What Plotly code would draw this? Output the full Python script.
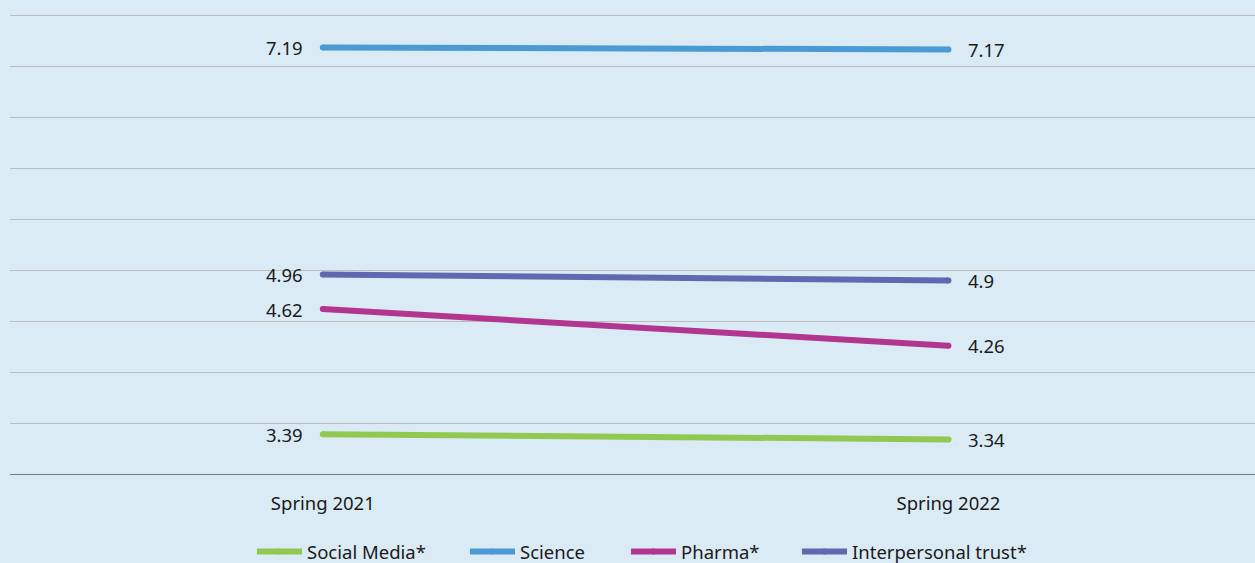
import plotly.graph_objects as go

periods = ["Spring 2021", "Spring 2022"]
series_names = ["Social Media*", "Science", "Pharma*", "Interpersonal trust*"]
social_media = [3.39, 3.34]
science = [7.19, 7.17]
pharma = [4.62, 4.26]
interpersonal = [4.96, 4.90]

colors = ["#92c84f", "#4a9bd5", "#b2368f", "#6068b0"]
values = [social_media, science, pharma, interpersonal]

FONT = "Noto Sans"
FS = 18.5
TEXT = "#1a1a1a"
BG = "#daebf5"

# one legend per series so the entries can be spaced out along the bottom
legend_ids = ["legend", "legend2", "legend3", "legend4"]
legend_x = [252, 465, 626, 797]

fig = go.Figure()
for name, vals, col, lid in zip(series_names, values, colors, legend_ids):
    fig.add_trace(go.Scatter(
        x=periods, y=vals, name=name, mode="lines+markers",
        line=dict(color=col, width=6),
        marker=dict(size=6, color=col),
        hoverinfo="skip", legend=lid,
    ))
    # value labels at each end of the line
    fig.add_annotation(x=periods[0], y=vals[0], text=f"{vals[0]:g}",
                       xanchor="right", yanchor="middle", xshift=-18,
                       showarrow=False, font=dict(family=FONT, size=FS, color=TEXT))
    fig.add_annotation(x=periods[1], y=vals[1], text=f"{vals[1]:g}",
                       xanchor="left", yanchor="middle", xshift=18,
                       showarrow=False, font=dict(family=FONT, size=FS, color=TEXT))

legend_common = dict(orientation="h", xref="container", yref="container",
                     y=(563 - 552) / 563, yanchor="middle", xanchor="left",
                     itemwidth=45, bgcolor="rgba(0,0,0,0)",
                     font=dict(family=FONT, size=FS, color=TEXT))
legends = {lid: dict(legend_common, x=lx / 1255) for lid, lx in zip(legend_ids, legend_x)}

fig.update_layout(
    width=1255, height=563,
    margin=dict(l=10, r=0, t=0, b=89, autoexpand=False),
    paper_bgcolor=BG,
    plot_bgcolor=BG,
    font=dict(family=FONT, size=FS, color=TEXT),
    showlegend=True,
    xaxis=dict(type="category", range=[-0.5, 1.49], showgrid=False, zeroline=False,
               showline=True, linecolor="#7a7a7a", linewidth=1, automargin=False,
               ticks="outside", ticklen=13, tickcolor="rgba(0,0,0,0)",
               tickfont=dict(family=FONT, size=FS, color=TEXT)),
    yaxis=dict(range=[3.0, 7.656], dtick=0.5, tick0=3.0, showgrid=True,
               gridcolor="#bcbcbc", gridwidth=1, zeroline=False, automargin=False,
               showticklabels=False, showline=False),
    **legends,
)

fig.write_html("out.html")
